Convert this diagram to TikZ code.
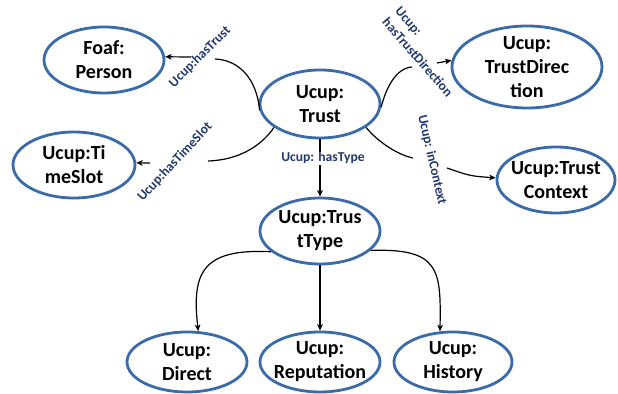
\documentclass[tikz,border=0pt]{standalone}
\usepackage{fontspec}
\setmainfont{Carlito}
\usetikzlibrary{shapes.geometric,arrows.meta}
\definecolor{rim}{HTML}{3A6BA8}
\definecolor{navy}{HTML}{22386E}
\tikzset{
  ent/.style={ellipse, draw=rim, line width=1.4pt, inner sep=-12pt,
    font=\fontsize{10}{12}\selectfont\bfseries, align=center, text=black},
  rel/.style={font=\fontsize{6.8}{8.5}\selectfont\bfseries, text=navy, inner sep=0pt},
  link/.style={draw=black, line width=0.6pt},
  arr/.style={link, -{Stealth[length=3.2pt,width=2.8pt,inset=0.8pt]}},
}
\begin{document}
\begin{tikzpicture}[x=0.5pt,y=-0.5pt]
\useasboundingbox (0,0) rectangle (618,394);

% classes
\node[ent, minimum width=60pt, minimum height=34pt] (trust) at (320,104) {Ucup:\\Trust};
\node[ent, minimum width=60pt, minimum height=33pt] (foaf) at (104,60) {Foaf:\\Person};
\node[ent, minimum width=61pt, minimum height=33pt] (timeslot) at (74,165) {Ucup:Ti\\meSlot};
\node[ent, minimum width=75pt, minimum height=41pt] (direction) at (527,67) {Ucup:\\TrustDirec\\tion};
\node[ent, minimum width=59pt, minimum height=33pt] (context) at (556,180) {Ucup:Trust\\Context};
\node[ent, minimum width=60pt, minimum height=33pt] (ttype) at (320,231) {Ucup:Trus\\tType};
\node[ent, minimum width=60pt, minimum height=30pt] (direct) at (187,362) {Ucup:\\Direct};
\node[ent, minimum width=60pt, minimum height=30pt] (reput) at (320,362) {Ucup:\\Reputation};
\node[ent, minimum width=59pt, minimum height=30pt] (history) at (453,362) {Ucup:\\History};

% property labels
\node[rel, rotate=45] (lhastrust) at (200,57) {Ucup:hasTrust};
\node[rel, rotate=47] (lhastime) at (175,162) {Ucup:hasTimeSlot};
\node[rel, rotate=-49, align=left] (lhasdir) at (424,52) {Ucup:\\hasTrustDirection};
\node[rel, rotate=-77] (lincontext) at (432,160) {Ucup: inContext};

% break points around the labels
\coordinate (htA) at (215,59);
\coordinate (htB) at (191,57);
\coordinate (tsA) at (208,161);
\coordinate (tsB) at (150,163);
\coordinate (tdA) at (412,67);
\coordinate (tdB) at (437,63);
\coordinate (icA) at (413,158);
\coordinate (icB) at (447,168);

% hasTrust
\draw[link] (trust.186) .. controls (257,80) and (240,60) .. (htA);
\draw[arr] (htB) -- (foaf.3);
% hasTimeSlot
\draw[link] (trust.207) .. controls (262,145) and (240,160) .. (tsA);
\draw[arr] (tsB) -- (timeslot.2);
% hasTrustDirection
\draw[link] (trust.357) .. controls (386,88) and (396,68) .. (tdA);
\draw[arr] (tdB) -- (direction.175);
% inContext
\draw[link] (trust.333) .. controls (378,142) and (398,155) .. (icA);
\draw[arr] (icB) .. controls (470,176) .. (context.178);
% hasType
\draw[arr] (trust.south) -- node[rel, fill=white, pos=0.33, inner xsep=1pt, inner ysep=0.3pt, xshift=1.5pt] (lhastype) {Ucup: hasType} (ttype.north);

% subtypes
\draw[arr] (ttype.203) .. controls (200,248) and (192,275) .. (direct.70);
\draw[arr] (ttype.south) -- (reput.north);
\draw[arr] (ttype.339) .. controls (440,248) and (441,270) .. (history.113);
\end{tikzpicture}
\end{document}
